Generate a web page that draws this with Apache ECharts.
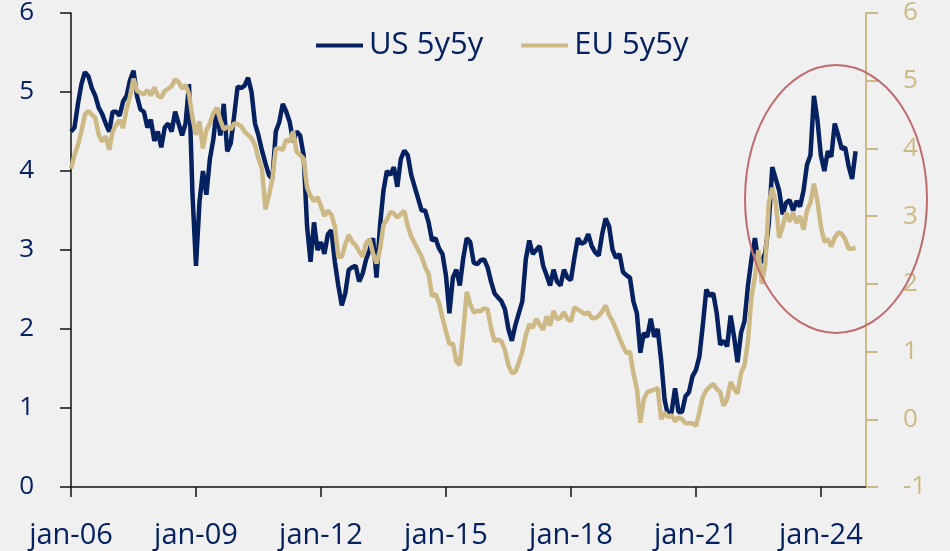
<!DOCTYPE html>
<html>
<head>
<meta charset="utf-8">
<script src="https://cdn.jsdelivr.net/npm/echarts@6/dist/echarts.min.js"></script>
<style>
  html, body { margin: 0; padding: 0; background: #f0f0f0; }
  #chart { width: 950px; height: 551px; }
</style>
</head>
<body>
<div id="chart"></div>
<script>
/* maaneder fra jan-06 til feb-25 (kun jan vises paa aksen) */
var monthNames = ['jan','feb','mar','apr','maj','jun','jul','aug','sep','okt','nov','dec'];
var categories = [];
for (var i = 0; i < 230; i++) {
    var yy = 6 + Math.floor(i / 12);
    categories.push(monthNames[i % 12] + '-' + (yy < 10 ? '0' + yy : '' + yy));
}

/* US 5y5y, venstre akse, maanedlig */
var us5y5y = [
    4.5,4.55,4.85,5.1,5.25,5.2,5.05,4.95,4.8,4.72,4.6,4.5,
    4.75,4.75,4.7,4.88,4.95,5.15,5.27,4.95,4.78,4.75,4.55,4.65,
    4.38,4.5,4.3,4.55,4.6,4.5,4.75,4.6,4.45,4.6,5.1,3.7,
    2.8,3.6,4.0,3.7,4.15,4.4,4.8,4.45,4.85,4.25,4.35,4.7,
    5.07,5.05,5.08,5.18,5.0,4.6,4.45,4.26,4.1,3.95,3.9,4.5,
    4.62,4.85,4.75,4.62,4.37,4.5,4.45,4.2,3.3,2.85,3.35,3.0,
    3.1,2.95,3.2,3.25,2.85,2.55,2.3,2.45,2.75,2.78,2.8,2.6,
    2.7,2.88,3.0,3.15,2.65,3.3,3.75,4.0,3.95,4.05,3.8,4.15,
    4.26,4.2,3.95,3.8,3.65,3.5,3.5,3.35,3.12,3.15,3.02,2.95,
    2.68,2.2,2.65,2.75,2.55,2.9,3.15,3.1,2.84,2.82,2.87,2.88,
    2.78,2.6,2.45,2.4,2.35,2.25,2.0,1.85,2.05,2.2,2.35,2.88,
    3.12,2.95,3.0,3.05,2.8,2.68,2.55,2.75,2.6,2.55,2.75,2.65,
    2.62,2.9,3.15,3.08,3.1,3.2,3.05,2.97,2.93,3.2,3.4,3.3,
    3.0,2.9,2.95,2.72,2.68,2.65,2.35,2.2,1.7,1.95,1.9,2.13,
    1.9,2.0,1.6,1.1,0.9,0.95,1.25,0.95,0.95,1.15,1.2,1.4,
    1.48,1.65,2.05,2.5,2.42,2.45,2.2,1.8,1.85,1.78,2.17,1.9,
    1.58,1.95,2.1,2.55,2.88,3.15,2.85,2.85,2.97,3.34,4.05,3.9,
    3.75,3.45,3.6,3.63,3.5,3.62,3.55,3.75,4.08,4.2,4.95,4.65,
    4.2,4.0,4.25,4.18,4.6,4.45,4.28,4.3,4.06,3.9,4.25
];

/* EU 5y5y, hoejre akse, maanedlig */
var eu5y5y = [
    3.7,3.9,4.05,4.25,4.5,4.55,4.5,4.45,4.2,4.1,4.18,3.98,
    4.25,4.35,4.42,4.3,4.58,4.77,5.03,4.85,4.82,4.8,4.86,4.78,
    4.9,4.78,4.75,4.85,4.88,4.92,5.02,4.98,4.88,4.94,4.8,4.45,
    4.2,4.4,4.0,4.27,4.37,4.52,4.6,4.42,4.28,4.32,4.28,4.37,
    4.36,4.33,4.25,4.2,4.15,4.05,3.85,3.7,3.1,3.3,3.55,4.0,
    4.0,3.98,4.13,4.1,4.25,3.95,3.9,3.85,3.42,3.3,3.22,3.28,
    3.15,3.0,3.08,3.02,2.85,2.4,2.4,2.58,2.72,2.62,2.57,2.48,
    2.4,2.6,2.66,2.45,2.3,2.5,2.87,2.95,3.06,3.04,2.98,3.03,
    3.08,2.85,2.7,2.6,2.5,2.4,2.25,2.15,1.82,1.85,1.72,1.5,
    1.3,1.11,1.12,0.85,0.8,1.3,1.88,1.7,1.58,1.6,1.6,1.64,
    1.62,1.35,1.15,1.18,1.15,1.02,0.8,0.68,0.7,0.84,1.0,1.24,
    1.4,1.35,1.48,1.4,1.32,1.52,1.38,1.6,1.48,1.5,1.58,1.48,
    1.45,1.65,1.62,1.59,1.55,1.58,1.5,1.49,1.53,1.59,1.68,1.54,
    1.45,1.33,1.2,1.08,0.98,1.0,0.68,0.45,-0.05,0.3,0.4,0.42,
    0.44,0.46,0.0,0.1,0.03,0.06,-0.03,0.03,0.0,-0.06,-0.06,-0.06,
    -0.1,0.1,0.33,0.43,0.48,0.52,0.45,0.4,0.2,0.3,0.55,0.45,
    0.38,0.68,0.8,1.15,1.8,2.1,2.5,2.0,2.3,3.2,3.42,3.2,
    2.68,2.85,3.05,2.92,3.05,2.9,3.0,2.8,3.08,3.2,3.48,3.22,
    2.85,2.62,2.66,2.55,2.68,2.76,2.74,2.66,2.52,2.52,2.53
];

var navy = '#062160';
var tan = '#cdb985';
var fontName = 'Open Sans';

var myChart = echarts.init(document.getElementById('chart'));
var option = {
    backgroundColor: '#f0f0f0',
    animation: false,
    color: [navy, tan],
    legend: {
        left: 311,
        top: 25,
        icon: 'rect',
        itemWidth: 47,
        itemHeight: 4,
        itemGap: 38,
        textStyle: {
            color: navy,
            fontFamily: fontName,
            fontSize: 31,
            padding: [0, 0, 0, 1]
        },
        data: ['US 5y5y', 'EU 5y5y']
    },
    grid: {
        left: 71,
        right: 84,
        top: 8,
        bottom: 64
    },
    xAxis: {
        type: 'category',
        boundaryGap: false,
        data: categories,
        axisLine: {
            show: true,
            onZero: false,
            lineStyle: { color: '#111', width: 1.5 }
        },
        axisTick: {
            show: true,
            length: 10,
            interval: function (idx) { return idx % 36 === 0; },
            lineStyle: { color: '#111', width: 1.5 }
        },
        axisLabel: {
            interval: function (idx) { return idx % 36 === 0; },
            color: navy,
            fontFamily: fontName,
            fontSize: 29,
            margin: 34
        },
        splitLine: { show: false }
    },
    yAxis: [
        {
            type: 'value',
            min: 0,
            max: 6,
            interval: 1,
            position: 'left',
            axisLine: {
                show: true,
                lineStyle: { color: '#111', width: 1.5 }
            },
            axisTick: {
                show: true,
                length: 11,
                lineStyle: { color: '#111', width: 1.5 }
            },
            axisLabel: {
                color: navy,
                fontFamily: fontName,
                fontSize: 26,
                margin: 37
            },
            splitLine: { show: false }
        },
        {
            type: 'value',
            min: -1,
            max: 6,
            interval: 1,
            position: 'right',
            axisLine: {
                show: true,
                lineStyle: { color: tan, width: 2 }
            },
            axisTick: {
                show: true,
                length: 12,
                lineStyle: { color: tan, width: 2 }
            },
            axisLabel: {
                color: tan,
                fontFamily: fontName,
                fontSize: 26,
                margin: 37
            },
            splitLine: { show: false }
        }
    ],
    series: [
        {
            name: 'US 5y5y',
            type: 'line',
            yAxisIndex: 0,
            symbol: 'none',
            lineStyle: { width: 4.5, color: navy },
            data: us5y5y
        },
        {
            name: 'EU 5y5y',
            type: 'line',
            yAxisIndex: 1,
            symbol: 'none',
            lineStyle: { width: 4.5, color: tan },
            data: eu5y5y
        }
    ],
    graphic: [
        {
            type: 'ellipse',
            shape: { cx: 836, cy: 199, rx: 91, ry: 134 },
            style: { fill: 'none', stroke: '#c06a6c', lineWidth: 2 },
            z: 100
        }
    ]
};
myChart.setOption(option);
</script>
</body>
</html>
